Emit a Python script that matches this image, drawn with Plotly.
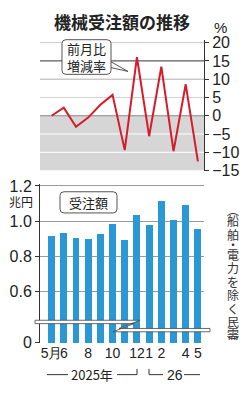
import plotly.graph_objects as go

# ---------------- data ----------------
months = ["2025-05", "2025-06", "2025-07", "2025-08", "2025-09", "2025-10", "2025-11",
          "2025-12", "2026-01", "2026-02", "2026-03", "2026-04", "2026-05"]
x_labels = ["5月", "6", "", "8", "", "10", "", "12", "1", "2", "", "4", "5"]
mom_change = [0.0, 2.2, -3.0, -0.5, 3.0, 5.7, -9.4, 16.0, -5.6, 13.4, -9.7, 8.6, -12.5]   # %
orders = [0.914, 0.932, 0.905, 0.900, 0.927, 0.982, 0.891, 1.034, 0.978, 1.114, 1.007, 1.094, 0.958]  # 兆円

top_tickvals = [20, 15, 10, 5, 0, -5, -10, -15]
top_ticktext = ["20", "15", "10", "5", "0", "−5", "−10", "−15"]
bot_tickvals = [0.6, 0.8, 1.0, 1.2]
bot_ticktext = ["0.6", "0.8", "1.0", "1.2"]
zero_label = "0"
side_note = ["︵", "船", "舶", "・", "電", "力", "を", "除", "く", "民", "需", "︶"]

# ---------------- layout helpers ----------------
W, H = 246, 400
def px(x): return x / W
def py(y): return 1 - y / H

RED = "#d51c2b"
BLUE = "#2a98d4"
NUM_FONT = "Liberation Sans"
JP_FONT = "Noto Sans CJK JP"
BREAK_POS = 0.308   # axis position where the broken axis shows its "0"

idx = list(range(len(months)))
xr = [-0.95, 12.5]

fig = go.Figure()
fig.add_trace(go.Scatter(x=idx, y=mom_change, mode="lines", line=dict(color=RED, width=2),
                         xaxis="x", yaxis="y", hoverinfo="skip", showlegend=False))
fig.add_trace(go.Bar(x=idx, y=orders, base=0, width=0.57, marker=dict(color=BLUE, line=dict(width=0)),
                     xaxis="x2", yaxis="y2", hoverinfo="skip", showlegend=False))

shapes = []
# grey negative zone on top chart
shapes.append(dict(type="rect", xref="paper", yref="y", x0=px(40), x1=px(204), y0=-15, y1=0,
                   fillcolor="#d6d6d6", line=dict(width=0), layer="below"))
grid_colors = {20: "#c8c8c8", 15: "#333333", 10: "#b0b0b0", 5: "#d0d0d0", 0: "#8a8a8a",
               -5: "#ffffff", -10: "#ffffff"}
BOX_L, BOX_R = 62, 111   # callout box edges (px); grid lines stop at the box
for v in top_tickvals:
    if v in grid_colors:
        if v == 15:
            for a, b in [(40, BOX_L), (BOX_R, 204)]:
                shapes.append(dict(type="line", xref="paper", yref="y", x0=px(a), x1=px(b), y0=v, y1=v,
                                   line=dict(color=grid_colors[v], width=1), layer="below"))
        else:
            shapes.append(dict(type="line", xref="paper", yref="y", x0=px(40), x1=px(204), y0=v, y1=v,
                               line=dict(color=grid_colors[v], width=1), layer="below"))

def rrect(x0, y0, x1, y1, r):
    pts = (f"M {px(x0+r):.5f},{py(y0):.5f} L {px(x1-r):.5f},{py(y0):.5f} Q {px(x1):.5f},{py(y0):.5f} {px(x1):.5f},{py(y0+r):.5f} "
           f"L {px(x1):.5f},{py(y1-r):.5f} Q {px(x1):.5f},{py(y1):.5f} {px(x1-r):.5f},{py(y1):.5f} "
           f"L {px(x0+r):.5f},{py(y1):.5f} Q {px(x0):.5f},{py(y1):.5f} {px(x0):.5f},{py(y1-r):.5f} "
           f"L {px(x0):.5f},{py(y0+r):.5f} Q {px(x0):.5f},{py(y0):.5f} {px(x0+r):.5f},{py(y0):.5f} Z")
    return pts

# label boxes
shapes.append(dict(type="path", xref="paper", yref="paper", path=rrect(BOX_L, 35, BOX_R, 71, 4),
                   fillcolor="white", line=dict(color="#555", width=1), layer="above"))
shapes.append(dict(type="path", xref="paper", yref="paper", path=rrect(60, 193, 117, 215, 4),
                   fillcolor="white", line=dict(color="#555", width=1), layer="above"))
# callout pointer
shapes.append(dict(type="line", xref="paper", yref="paper", x0=px(BOX_R), x1=px(128), y0=py(58), y1=py(68),
                   line=dict(color="#555", width=1), layer="above"))
shapes.append(dict(type="line", xref="paper", yref="paper", x0=px(BOX_R), x1=px(128), y0=py(64), y1=py(68),
                   line=dict(color="#555", width=1), layer="above"))

# axis break mark
zpath = (f"M {px(35):.5f},{py(326.5):.5f} L {px(140):.5f},{py(326.5):.5f} L {px(119):.5f},{py(335):.5f} L {px(210):.5f},{py(335):.5f} "
         f"L {px(210):.5f},{py(338.5):.5f} L {px(113):.5f},{py(338.5):.5f} L {px(134):.5f},{py(330):.5f} L {px(35):.5f},{py(330):.5f} Z")
shapes.append(dict(type="path", xref="paper", yref="paper", path=zpath, fillcolor="white",
                   line=dict(color="#444", width=0.8), layer="above"))

# year brackets
lc = dict(color="#333", width=1)
for x0, x1 in [(47, 68), (117, 137), (149, 163), (184, 200)]:
    shapes.append(dict(type="line", xref="paper", yref="paper", x0=px(x0), x1=px(x1), y0=py(383), y1=py(383), line=lc))
shapes.append(dict(type="line", xref="paper", yref="paper", x0=px(137), x1=px(137), y0=py(383), y1=py(377), line=lc))
shapes.append(dict(type="line", xref="paper", yref="paper", x0=px(149), x1=px(149), y0=py(383), y1=py(377), line=lc))

ann = []
def add_text(text, x, y, size, family=JP_FONT, color="#222"):
    ann.append(dict(text=text, x=px(x), y=py(y), xref="paper", yref="paper", showarrow=False,
                    xanchor="center", yanchor="middle",
                    font=dict(family=family, size=size, color=color)))

add_text("<b>機械受注額の推移</b>", 122, 16, 17)
add_text("%", 220, 22, 15, NUM_FONT)
add_text("前月比<br>増減率", 86.5, 53, 13)
add_text("受注額", 88.5, 204, 13)
add_text("兆円", 21, 203, 12)
add_text("2025年", 92, 383, 13)
add_text("26", 174.5, 383, 14, NUM_FONT)
note_y = [211, 223, 237, 248, 258, 272, 286, 300, 314, 328, 340, 349]
for ch, yy in zip(side_note, note_y):
    add_text(ch, 233, yy, 12, JP_FONT, "#333")

fig.update_layout(
    width=W, height=H, autosize=False,
    margin=dict(l=0, r=0, t=0, b=0),
    paper_bgcolor="white", plot_bgcolor="rgba(0,0,0,0)",
    shapes=shapes, annotations=ann,
    bargap=0,
    xaxis=dict(domain=[px(40), px(204)], range=xr, showgrid=False, zeroline=False,
               showticklabels=False, ticks="", anchor="y", fixedrange=True),
    yaxis=dict(domain=[py(171), py(35)], range=[-15, 20.8], side="right", anchor="x",
               tickvals=top_tickvals, ticktext=top_ticktext, ticks="outside", ticklen=4,
               tickcolor="#333", showline=True, linecolor="#333", linewidth=1,
               showgrid=False, zeroline=False, tickfont=dict(family=NUM_FONT, size=16, color="#222")),
    xaxis2=dict(domain=[px(40), px(204)], range=xr, anchor="y2", showgrid=False, zeroline=False,
                tickvals=idx, ticktext=x_labels, ticks="", showline=False, tickangle=0,
                tickfont=dict(family=NUM_FONT, size=14, color="#222")),
    yaxis2=dict(domain=[py(350), py(185)], range=[BREAK_POS, 1.211], anchor="x2",
                tickvals=[BREAK_POS] + bot_tickvals, ticktext=[zero_label] + bot_ticktext,
                ticks="outside", ticklen=4, tickcolor="#333", showline=True, linecolor="#333",
                linewidth=1, showgrid=True, gridcolor="#9a9a9a", gridwidth=1, zeroline=False,
                tickfont=dict(family=NUM_FONT, size=16, color="#222")),
)

fig.write_html("out.html")
